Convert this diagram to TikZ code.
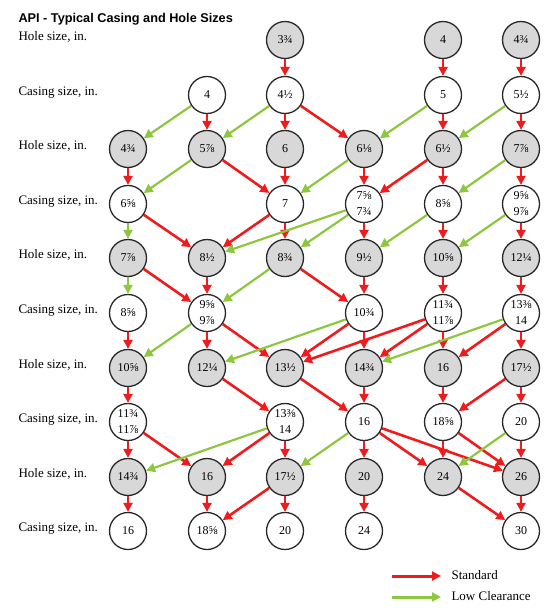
\documentclass[tikz,border=0pt]{standalone}
\usepackage{fontspec}
\setmainfont{Liberation Serif}
\newfontfamily\titlefont{Liberation Sans}
\usepackage{xcolor}
\usepackage{tikz}
\usetikzlibrary{arrows.meta, positioning}

\definecolor{stdred}{RGB}{238,28,28}
\definecolor{lowgreen}{RGB}{141,198,63}
\definecolor{holegray}{RGB}{216,216,216}
\definecolor{rimgray}{RGB}{40,40,40}

\begin{document}
\begin{tikzpicture}[
			x=1pt, y=-1pt,
			every node/.style={font=\fontsize{12}{13}\selectfont, align=center},
			casing/.style={circle, draw=rimgray, line width=1.3pt, minimum size=37pt, inner sep=0pt, fill=white},
			hole/.style={casing, fill=holegray},
			rowlabel/.style={anchor=base west, font=\fontsize{13}{15}\selectfont},
			std/.style={-{Triangle[length=9pt, width=9pt]}, draw=stdred, line width=2.6pt},
			low/.style={-{Triangle[length=9pt, width=9pt]}, draw=lowgreen, line width=2.2pt}
			]
			\useasboundingbox (0,0) rectangle (554,608);
			
			\node[anchor=base west, font=\titlefont\bfseries\fontsize{12.7}{14}\selectfont] (title) at (15,22) {API - Typical Casing and Hole Sizes};
			
			\node[rowlabel] (lab1) at (15,40) {Hole size, in.};
			\node[rowlabel] (lab2) at (15,95) {Casing size, in.};
			\node[rowlabel] (lab3) at (15,149) {Hole size, in.};
			\node[rowlabel] (lab4) at (15,204) {Casing size, in.};
			\node[rowlabel] (lab5) at (15,258) {Hole size, in.};
			\node[rowlabel] (lab6) at (15,313) {Casing size, in.};
			\node[rowlabel] (lab7) at (15,368) {Hole size, in.};
			\node[rowlabel] (lab8) at (15,422) {Casing size, in.};
			\node[rowlabel] (lab9) at (15,477) {Hole size, in.};
			\node[rowlabel] (lab10) at (15,531) {Casing size, in.};
			
			\node[hole] (r1c3) at (285,40) {3¾};
			\node[hole] (r1c5) at (443,40) {4};
			\node[hole] (r1c6) at (521,40) {4¾};
			
			\node[casing] (r2c2) at (207,95) {4};
			\node[casing] (r2c3) at (285,95) {4½};
			\node[casing] (r2c5) at (443,95) {5};
			\node[casing] (r2c6) at (521,95) {5½};
			
			\node[hole] (r3c1) at (128,149) {4¾};
			\node[hole] (r3c2) at (207,149) {5⅞};
			\node[hole] (r3c3) at (285,149) {6};
			\node[hole] (r3c4) at (364,149) {6⅛};
			\node[hole] (r3c5) at (443,149) {6½};
			\node[hole] (r3c6) at (521,149) {7⅞};
			
			\node[casing] (r4c1) at (128,204) {6⅝};
			\node[casing] (r4c3) at (285,204) {7};
			\node[casing] (r4c4) at (364,204) {7⅝\\[3pt]7¾};
			\node[casing] (r4c5) at (443,204) {8⅝};
			\node[casing] (r4c6) at (521,204) {9⅝\\[3pt]9⅞};
			
			\node[hole] (r5c1) at (128,258) {7⅞};
			\node[hole] (r5c2) at (207,258) {8½};
			\node[hole] (r5c3) at (285,258) {8¾};
			\node[hole] (r5c4) at (364,258) {9½};
			\node[hole] (r5c5) at (443,258) {10⅝};
			\node[hole] (r5c6) at (521,258) {12¼};
			
			\node[casing] (r6c1) at (128,313) {8⅝};
			\node[casing] (r6c2) at (207,313) {9⅝\\[3pt]9⅞};
			\node[casing] (r6c4) at (364,313) {10¾};
			\node[casing] (r6c5) at (443,313) {11¾\\[3pt]11⅞};
			\node[casing] (r6c6) at (521,313) {13⅜\\[3pt]14};
			
			\node[hole] (r7c1) at (128,368) {10⅝};
			\node[hole] (r7c2) at (207,368) {12¼};
			\node[hole] (r7c3) at (285,368) {13½};
			\node[hole] (r7c4) at (364,368) {14¾};
			\node[hole] (r7c5) at (443,368) {16};
			\node[hole] (r7c6) at (521,368) {17½};
			
			\node[casing] (r8c1) at (128,422) {11¾\\[3pt]11⅞};
			\node[casing] (r8c3) at (285,422) {13⅜\\[3pt]14};
			\node[casing] (r8c4) at (364,422) {16};
			\node[casing] (r8c5) at (443,422) {18⅝};
			\node[casing] (r8c6) at (521,422) {20};
			
			\node[hole] (r9c1) at (128,477) {14¾};
			\node[hole] (r9c2) at (207,477) {16};
			\node[hole] (r9c3) at (285,477) {17½};
			\node[hole] (r9c4) at (364,477) {20};
			\node[hole] (r9c5) at (443,477) {24};
			\node[hole] (r9c6) at (521,477) {26};
			
			\node[casing] (r10c1) at (128,531) {16};
			\node[casing] (r10c2) at (207,531) {18⅝};
			\node[casing] (r10c3) at (285,531) {20};
			\node[casing] (r10c4) at (364,531) {24};
			\node[casing] (r10c6) at (521,531) {30};
			
			\draw[std] (r1c3) -- (r2c3);
			\draw[std] (r1c5) -- (r2c5);
			\draw[std] (r1c6) -- (r2c6);
			
			\draw[low] (r2c2) -- (r3c1);
			\draw[std] (r2c2) -- (r3c2);
			\draw[low] (r2c3) -- (r3c2);
			\draw[std] (r2c3) -- (r3c3);
			\draw[std] (r2c3) -- (r3c4);
			\draw[low] (r2c5) -- (r3c4);
			\draw[std] (r2c5) -- (r3c5);
			\draw[low] (r2c6) -- (r3c5);
			\draw[std] (r2c6) -- (r3c6);
			
			\draw[std] (r3c1) -- (r4c1);
			\draw[low] (r3c2) -- (r4c1);
			\draw[std] (r3c2) -- (r4c3);
			\draw[std] (r3c3) -- (r4c3);
			\draw[low] (r3c4) -- (r4c3);
			\draw[std] (r3c4) -- (r4c4);
			\draw[std] (r3c5) -- (r4c4);
			\draw[std] (r3c5) -- (r4c5);
			\draw[low] (r3c6) -- (r4c5);
			\draw[std] (r3c6) -- (r4c6);
			
			\draw[low] (r4c1) -- (r5c1);
			\draw[std] (r4c1) -- (r5c2);
			\draw[std] (r4c3) -- (r5c2);
			\draw[std] (r4c3) -- (r5c3);
			\draw[low] (r4c4) -- (r5c2);
			\draw[low] (r4c4) -- (r5c3);
			\draw[std] (r4c4) -- (r5c4);
			\draw[low] (r4c5) -- (r5c4);
			\draw[std] (r4c5) -- (r5c5);
			\draw[low] (r4c6) -- (r5c5);
			\draw[std] (r4c6) -- (r5c6);
			
			\draw[low] (r5c1) -- (r6c1);
			\draw[std] (r5c1) -- (r6c2);
			\draw[std] (r5c2) -- (r6c2);
			\draw[low] (r5c3) -- (r6c2);
			\draw[std] (r5c3) -- (r6c4);
			\draw[std] (r5c4) -- (r6c4);
			\draw[std] (r5c5) -- (r6c5);
			\draw[std] (r5c6) -- (r6c6);
			
			\draw[std] (r6c1) -- (r7c1);
			\draw[low] (r6c2) -- (r7c1);
			\draw[std] (r6c2) -- (r7c2);
			\draw[std] (r6c2) -- (r7c3);
			\draw[low] (r6c4) -- (r7c2);
			\draw[std] (r6c4) -- (r7c3);
			\draw[std] (r6c4) -- (r7c4);
			\draw[std] (r6c5) -- (r7c3);
			\draw[std] (r6c5) -- (r7c4);
			\draw[std] (r6c5) -- (r7c5);
			\draw[low] (r6c6) -- (r7c4);
			\draw[std] (r6c6) -- (r7c5);
			\draw[std] (r6c6) -- (r7c6);
			
			\draw[std] (r7c1) -- (r8c1);
			\draw[std] (r7c2) -- (r8c3);
			\draw[std] (r7c3) -- (r8c4);
			\draw[std] (r7c4) -- (r8c4);
			\draw[std] (r7c5) -- (r8c5);
			\draw[std] (r7c6) -- (r8c5);
			\draw[std] (r7c6) -- (r8c6);
			
			\draw[std] (r8c1) -- (r9c1);
			\draw[std] (r8c1) -- (r9c2);
			\draw[low] (r8c3) -- (r9c1);
			\draw[std] (r8c3) -- (r9c2);
			\draw[std] (r8c3) -- (r9c3);
			\draw[low] (r8c4) -- (r9c3);
			\draw[std] (r8c4) -- (r9c4);
			\draw[std] (r8c4) -- (r9c5);
			\draw[std] (r8c4) -- (r9c6);
			\draw[std] (r8c5) -- (r9c5);
			\draw[std] (r8c5) -- (r9c6);
			\draw[low] (r8c6) -- (r9c5);
			\draw[std] (r8c6) -- (r9c6);
			
			\draw[std] (r9c1) -- (r10c1);
			\draw[std] (r9c2) -- (r10c2);
			\draw[std] (r9c3) -- (r10c2);
			\draw[std] (r9c3) -- (r10c3);
			\draw[std] (r9c4) -- (r10c4);
			\draw[std] (r9c5) -- (r10c6);
			\draw[std] (r9c6) -- (r10c6);
			
			\coordinate (stdfrom) at (392,576);
			\coordinate (stdto) at (441,576);
			\coordinate (lowfrom) at (392,597);
			\coordinate (lowto) at (441,597);
			\draw[std, line width=3pt] (stdfrom) -- (stdto);
			\draw[low, line width=3pt] (lowfrom) -- (lowto);
			\node[anchor=west, font=\fontsize{13}{15}\selectfont] (stdtext) at (448,575) {Standard};
			\node[anchor=west, font=\fontsize{13}{15}\selectfont] (lowtext) at (448,596) {Low Clearance};
		\end{tikzpicture}
\end{document}
